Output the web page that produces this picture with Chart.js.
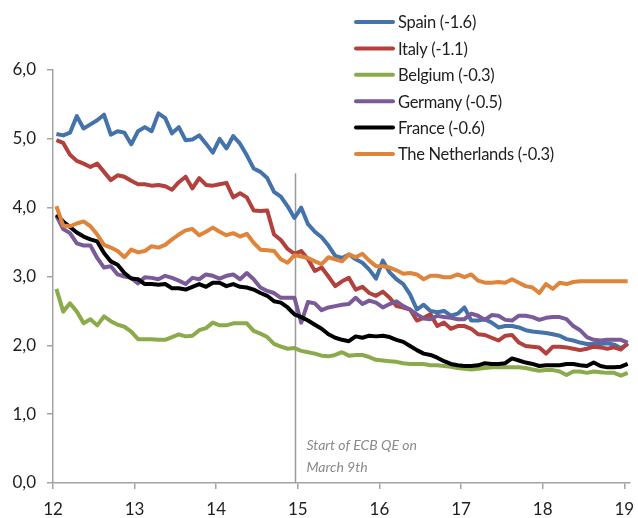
<!DOCTYPE html>
<html><head><meta charset="utf-8">
<script src="https://cdn.jsdelivr.net/npm/chart.js@4.4.1/dist/chart.umd.min.js"></script>
<style>html,body{margin:0;padding:0;background:#fff;}#wrap{width:638px;height:518px;position:relative;}</style>
</head><body><div id="wrap"><canvas id="c" width="638" height="518"></canvas></div>
<script>
// ---- data ----
const yearTicks = [12, 13, 14, 15, 16, 17, 18, 19];
const yearLabels = ["12", "13", "14", "15", "16", "17", "18", "19"];
const yTicks = [0, 1, 2, 3, 4, 5, 6];
const yTickLabels = ["0,0", "1,0", "2,0", "3,0", "4,0", "5,0", "6,0"];
const seriesNames = ["Spain (-1.6)", "Italy (-1.1)", "Belgium (-0.3)", "Germany (-0.5)", "France (-0.6)", "The Netherlands (-0.3)"];
const seriesColors = ["#4472AA", "#B2403D", "#8BAA4C", "#7A5A99", "#000000", "#DE843B"];
const startYear = 12; // monthly observations from Jan 2012 to Jan 2019

const spain = [5.07,5.05,5.09,5.33,5.15,5.21,5.27,5.35,5.06,5.11,5.09,4.92,5.11,5.17,5.11,5.37,5.30,5.08,5.17,4.98,
  4.99,5.05,4.93,4.80,5.00,4.86,5.04,4.93,4.76,4.57,4.52,4.43,4.23,4.16,4.02,3.85,4.00,3.76,
  3.65,3.57,3.45,3.30,3.27,3.32,3.25,3.20,3.10,2.97,3.23,3.06,2.96,2.89,2.74,2.52,2.59,2.50,2.48,2.50,2.43,2.46,
  2.55,2.36,2.36,2.38,2.33,2.26,2.28,2.28,2.26,2.22,2.20,2.19,2.18,2.16,2.14,2.09,2.07,2.04,2.02,2.02,
  2.02,2.03,2.01,1.96,2.02];
const italy = [4.98,4.94,4.77,4.68,4.64,4.59,4.64,4.52,4.40,4.47,4.45,4.39,4.34,4.34,4.32,4.33,4.31,4.26,4.37,4.45,
  4.28,4.43,4.33,4.32,4.34,4.36,4.15,4.21,4.15,3.96,3.95,3.96,3.61,3.53,3.40,3.33,3.37,3.25,
  3.08,3.13,3.00,2.86,2.93,2.98,2.81,2.85,2.76,2.72,2.78,2.69,2.57,2.55,2.52,2.36,2.40,2.45,2.28,2.33,2.24,2.28,
  2.28,2.24,2.16,2.15,2.11,2.07,2.14,2.15,2.04,1.99,1.98,1.97,1.88,1.98,1.98,1.97,1.95,1.93,1.95,1.98,
  1.97,1.95,1.97,1.94,2.03];
const belgium = [2.82,2.49,2.61,2.49,2.32,2.38,2.29,2.42,2.35,2.30,2.27,2.20,2.09,2.09,2.09,2.08,2.08,2.12,2.16,2.13,
  2.14,2.22,2.25,2.33,2.29,2.29,2.32,2.32,2.32,2.21,2.17,2.12,2.02,1.98,1.95,1.96,1.92,1.90,1.88,1.85,
  1.84,1.86,1.90,1.85,1.86,1.86,1.83,1.79,1.78,1.77,1.76,1.74,1.73,1.73,1.73,1.71,1.71,1.70,1.69,1.67,
  1.66,1.65,1.66,1.67,1.68,1.68,1.68,1.68,1.68,1.67,1.65,1.63,1.64,1.64,1.62,1.57,1.62,1.62,1.60,1.62,
  1.61,1.60,1.60,1.56,1.60];
const germany = [3.88,3.69,3.63,3.48,3.45,3.45,3.27,3.13,3.15,3.03,3.00,2.98,2.90,2.99,2.98,2.96,3.01,2.98,2.94,2.89,
  2.98,2.96,3.03,3.01,2.97,3.01,3.03,2.96,3.05,2.96,2.84,2.79,2.76,2.69,2.69,2.69,2.33,2.63,
  2.61,2.51,2.55,2.57,2.59,2.60,2.69,2.60,2.65,2.62,2.55,2.60,2.64,2.57,2.52,2.45,2.39,2.38,2.43,2.41,2.40,2.38,
  2.38,2.46,2.43,2.37,2.44,2.43,2.37,2.36,2.43,2.43,2.41,2.37,2.40,2.41,2.41,2.38,2.28,2.22,2.12,2.08,
  2.07,2.08,2.08,2.08,2.04];
const france = [3.90,3.80,3.72,3.64,3.58,3.54,3.51,3.34,3.22,3.17,3.05,2.97,2.96,2.89,2.89,2.88,2.89,2.83,2.83,2.81,
  2.85,2.89,2.85,2.91,2.91,2.86,2.89,2.85,2.84,2.81,2.76,2.72,2.64,2.62,2.55,2.45,2.41,2.36,
  2.30,2.24,2.16,2.11,2.08,2.06,2.13,2.11,2.14,2.13,2.14,2.12,2.08,2.05,1.99,1.93,1.88,1.86,1.82,1.77,1.73,1.71,
  1.70,1.70,1.71,1.74,1.73,1.73,1.74,1.81,1.78,1.75,1.73,1.70,1.71,1.71,1.71,1.73,1.73,1.71,1.70,1.75,
  1.70,1.68,1.68,1.69,1.73];
const netherlands = [4.02,3.74,3.73,3.77,3.80,3.73,3.61,3.46,3.42,3.37,3.28,3.39,3.35,3.37,3.44,3.42,3.46,3.54,3.61,3.67,
  3.69,3.60,3.65,3.71,3.65,3.60,3.63,3.58,3.62,3.49,3.39,3.38,3.37,3.25,3.20,3.31,3.29,3.27,
  3.22,3.18,3.28,3.25,3.22,3.32,3.28,3.33,3.23,3.15,3.15,3.13,3.09,3.04,3.05,3.03,2.96,3.01,3.01,2.99,2.99,3.03,
  2.99,3.03,2.94,2.91,2.91,2.92,2.91,2.96,2.91,2.86,2.84,2.76,2.89,2.82,2.91,2.89,2.92,2.93,2.93,2.93,
  2.93,2.93,2.93,2.93,2.93];
const seriesValues = [spain, italy, belgium, germany, france, netherlands];

const qeLineX = 14.97;     // start of ECB QE marker
const qeLineTop = 4.5;
const qeNote = ["Start of ECB QE on", "March 9th"];

// ---- chart ----
const FONT = "Lato, 'Open Sans', sans-serif";
const AXIS = "#a3a3a3";
const TEXT = "#1e1e1e";

const datasets = seriesValues.map((vals, s) => ({
  label: seriesNames[s],
  data: vals.map((v, i) => ({ x: startYear + (i + 0.5) / 12, y: v })),
  borderColor: seriesColors[s],
  backgroundColor: seriesColors[s],
  borderWidth: 4,
  pointRadius: 0,
  tension: 0,
  borderJoinStyle: 'round',
  borderCapStyle: 'butt',
  order: seriesValues.length - s
}));

const overlay = {
  id: 'overlay',
  beforeDatasetsDraw(chart) {
    const { ctx, scales: { x, y } } = chart;
    const px = Math.round(x.getPixelForValue(qeLineX)) + 0.5;
    ctx.save();
    ctx.strokeStyle = "#9a9a9a";
    ctx.lineWidth = 1.5;
    ctx.beginPath();
    ctx.moveTo(px, y.getPixelForValue(qeLineTop));
    ctx.lineTo(px, y.getPixelForValue(0));
    ctx.stroke();
    ctx.fillStyle = "#8a8a8a";
    ctx.font = "italic 14px " + FONT;
    ctx.textBaseline = "middle";
    ctx.textAlign = "left";
    ctx.fillText(qeNote[0], px + 11, 445);
    ctx.fillText(qeNote[1], px + 11, 467);
    ctx.restore();
  },
  afterDraw(chart) {
    const { ctx } = chart;
    ctx.save();
    seriesNames.forEach((name, s) => {
      const yy = 22 + s * 26.4;
      ctx.strokeStyle = seriesColors[s];
      ctx.lineWidth = 4;
      ctx.lineCap = 'round';
      ctx.beginPath();
      ctx.moveTo(356, yy);
      ctx.lineTo(393, yy);
      ctx.stroke();
      ctx.fillStyle = TEXT;
      ctx.font = "16.5px " + FONT;
      if ('letterSpacing' in ctx) ctx.letterSpacing = "-0.3px";
      ctx.textBaseline = "middle";
      ctx.textAlign = "left";
      ctx.fillText(name, 398, yy + 1);
    });
    ctx.restore();
  }
};

new Chart(document.getElementById('c'), {
  type: 'line',
  data: { datasets },
  plugins: [overlay],
  options: {
    responsive: false,
    animation: false,
    devicePixelRatio: 1,
    layout: { padding: { top: 70, right: 8, left: 0, bottom: 0 } },
    plugins: { legend: { display: false }, tooltip: { enabled: false } },
    scales: {
      x: {
        type: 'linear',
        min: 12, max: 19.07,
        afterFit(scale) { scale.height = 35; scale.paddingLeft = 0; scale.paddingRight = 0; },
        afterBuildTicks(scale) { scale.ticks = yearTicks.map(v => ({ value: v })); },
        ticks: {
          callback: (v) => yearLabels[yearTicks.indexOf(v)],
          font: { family: FONT, size: 17 },
          color: TEXT,
          padding: 10,
          maxRotation: 0,
          autoSkip: false
        },
        grid: { display: true, drawOnChartArea: false, drawTicks: true, tickLength: 6, color: AXIS, lineWidth: 1.5 },
        border: { display: true, color: AXIS, width: 1.5 }
      },
      y: {
        min: 0, max: 6,
        afterFit(scale) { scale.width = 53; scale.paddingTop = 0; scale.paddingBottom = 0; },
        afterBuildTicks(scale) { scale.ticks = yTicks.map(v => ({ value: v })); },
        ticks: {
          callback: (v) => yTickLabels[yTicks.indexOf(v)],
          font: { family: FONT, size: 17 },
          color: TEXT,
          padding: 11
        },
        grid: { display: true, drawOnChartArea: false, drawTicks: true, tickLength: 6, color: AXIS, lineWidth: 1.5 },
        border: { display: true, color: AXIS, width: 1.5 }
      }
    }
  }
});
</script>
</body></html>
